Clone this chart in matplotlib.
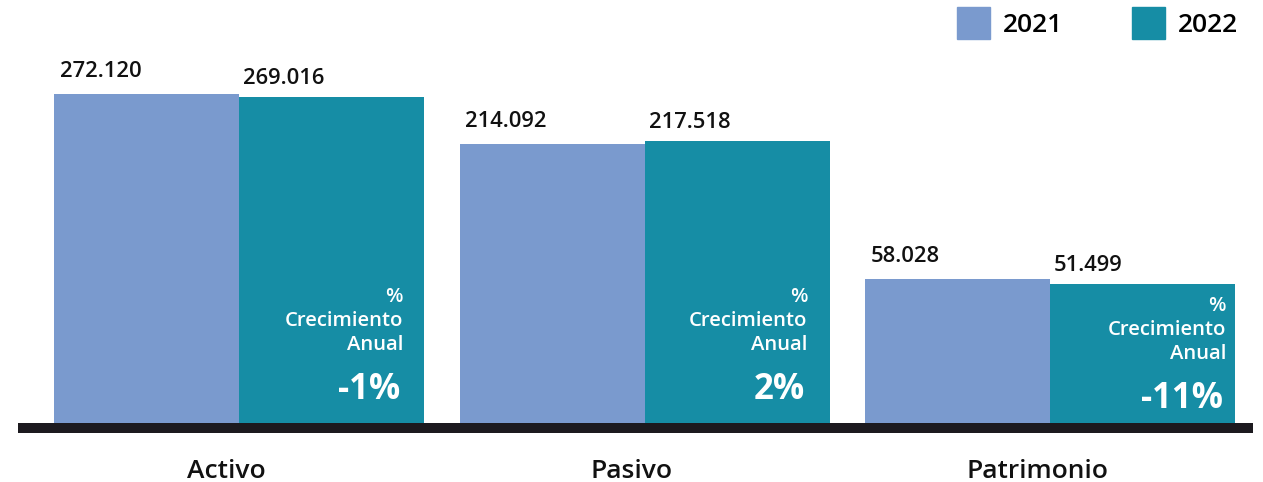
import numpy as np
import matplotlib
matplotlib.use("Agg")
import matplotlib.pyplot as plt
from matplotlib.patches import Patch

categories = ["Activo", "Pasivo", "Patrimonio"]
years = ["2021", "2022"]
values_2021 = [272.120, 214.092, 58.028]
values_2022 = [269.016, 217.518, 51.499]
growth = ["-1%", "2%", "-11%"]

c2021 = "#7a9ace"
c2022 = "#168da5"
dark = "#1c1a1f"

plt.rcParams["font.family"] = ["Open Sans", "DejaVu Sans"]

W, H = 1263, 482
fig = plt.figure(figsize=(W / 100, H / 100), dpi=100)
ax = fig.add_axes([0, 59 / H, 1, 423 / H])

base = -110
ax.set_ylim(base, 382)
ax.set_xlim(-239 / 405.5, (W - 239) / 405.5)
ax.axis("off")

def px(v):
    # pixels -> points at dpi 100
    return v * 0.72

upp = (382 - base) / 423  # data units per pixel
x = np.arange(len(categories))
w = 185 / 405.5

v21 = np.array(values_2021)
v22 = np.array(values_2022)
ax.bar(x - w / 2, v21 - base, w, bottom=base, color=c2021, label="2021")
ax.bar(x + w / 2, v22 - base, w, bottom=base, color=c2022, label="2022")

# thick base line
ax.plot([18 / W, 1253 / W], [-5 / 423, -5 / 423], transform=ax.transAxes,
        color=dark, lw=px(10), solid_capstyle="butt", clip_on=False)

# value labels, left aligned above each bar
for i in range(len(categories)):
    ax.annotate(f"{values_2021[i]:.3f}", (x[i] - w, v21[i]), xytext=(px(6), px(17)),
                textcoords="offset points", ha="left", va="baseline",
                fontsize=15.8, fontweight="semibold", color="#111111")
    ax.annotate(f"{values_2022[i]:.3f}", (x[i], v22[i]), xytext=(px(4), px(13)),
                textcoords="offset points", ha="left", va="baseline",
                fontsize=15.8, fontweight="semibold", color="#111111")

# growth text inside the 2022 bars
block_top = base + (423 - 287) * upp
pads = [21, 22, 9]
for i in range(len(categories)):
    top = min(block_top, v22[i] - 12 * upp)
    xr = x[i] + w
    for txt, dy in [("%", 15), ("Crecimiento", 39), ("Anual", 63)]:
        ax.annotate(txt, (xr, top), xytext=(-px(pads[i]), -px(dy)),
                    textcoords="offset points", ha="right", va="baseline",
                    fontsize=14.6, fontweight="semibold", color="white")
    ax.annotate(growth[i], (xr, top), xytext=(-px(pads[i] + 3), -px(112)),
                textcoords="offset points", ha="right", va="baseline",
                fontsize=25, fontweight="bold", color="white")

# category labels below the base line
for i, cat in enumerate(categories):
    ax.annotate(cat, (x[i], 0), xycoords=ax.get_xaxis_transform(),
                xytext=(-px(13), -px(55)), textcoords="offset points",
                ha="center", va="baseline", fontsize=19, fontweight="semibold",
                color="#111111", annotation_clip=False)

handles = [Patch(color=c2021), Patch(color=c2022)]
fig.legend(handles, years, loc="upper right", bbox_to_anchor=(1238 / W, 1 - 7 / H),
           ncol=2, frameon=False, prop={"weight": "semibold", "size": 19},
           handlelength=1.25, handleheight=1.5, handletextpad=0.5,
           columnspacing=2.6, borderpad=0, borderaxespad=0)

fig.savefig("out.png", dpi=100)
